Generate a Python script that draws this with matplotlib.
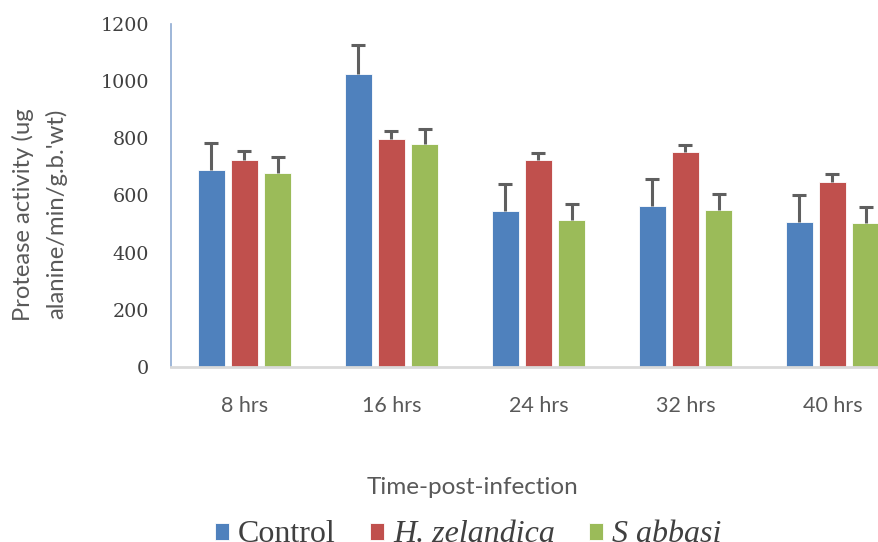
import matplotlib
matplotlib.use("Agg")
import matplotlib.pyplot as plt
import numpy as np

# Protease activity by time post infection
categories = ["8 hrs", "16 hrs", "24 hrs", "32 hrs", "40 hrs"]
series_names = ["Control", "H. zelandica", "S abbasi"]
control = [689, 1026, 545, 563, 506]
h_zelandica = [725, 797, 725, 751, 648]
s_abbasi = [680, 779, 513, 549, 505]
control_err = [96, 100, 95, 96, 96]
h_zelandica_err = [30, 29, 22, 26, 26]
s_abbasi_err = [56, 55, 57, 57, 56]
y_ticks = [0, 200, 400, 600, 800, 1000, 1200]

colors = ["#4F81BD", "#C0504D", "#9BBB59"]
values = [control, h_zelandica, s_abbasi]
errors = [control_err, h_zelandica_err, s_abbasi_err]

W, H = 879, 542
fig = plt.figure(figsize=(W / 100, H / 100), dpi=100)
ax = fig.add_axes([171 / W, 175 / H, 735 / W, 343 / H])

x = np.arange(len(categories)) + 0.5
width = 0.177
offset = 0.2245
handles = []
for i, (vals, errs, c) in enumerate(zip(values, errors, colors)):
    pos = x + (i - 1) * offset
    b = ax.bar(pos, vals, width, color=c, edgecolor="white", linewidth=0.6,
               zorder=2, label=series_names[i])
    eb = ax.errorbar(pos, vals, yerr=[np.zeros(len(errs)), errs], fmt="none",
                     ecolor="#5f5f5f", elinewidth=2.2, capsize=4.8,
                     capthick=2.2, zorder=3)
    # upper bars only: hide the cap sitting on the bar top
    eb[1][0].set_visible(False)
    handles.append(b)

ax.set_xlim(0, 5)
ax.set_ylim(0, 1200)
ax.set_yticks(y_ticks)
ax.set_yticklabels([str(v) for v in y_ticks], fontfamily="DejaVu Serif",
                   fontsize=13.8, color="#404040")
ax.set_xticks(x)
ax.set_xticklabels(categories, fontfamily="Lato", fontsize=15.5,
                   color="#595959")
ax.tick_params(axis="both", length=0)
ax.tick_params(axis="y", pad=16)
ax.tick_params(axis="x", pad=21)

for s in ["top", "right"]:
    ax.spines[s].set_visible(False)
ax.spines["left"].set_color("#8eaad2")
ax.spines["left"].set_linewidth(1.2)
ax.spines["bottom"].set_color("#d9d9d9")
ax.spines["bottom"].set_linewidth(2)

# Two-line y axis label
fig.text(23 / W, 1 - 215 / H, "Protease activity (ug", rotation=90,
         ha="center", va="center", fontfamily="Lato", fontsize=17.2,
         color="#595959")
fig.text(56 / W, 1 - 214 / H, "alanine/min/g.b.'wt)", rotation=90,
         ha="center", va="center", fontfamily="Lato", fontsize=17.2,
         color="#595959")

fig.text(473 / W, 1 - 488 / H, "Time-post-infection", ha="center",
         va="center", fontfamily="Lato", fontsize=17.5, color="#595959")

leg = fig.legend(handles=handles, labels=series_names, loc="center",
                 bbox_to_anchor=(468 / W, 1 - 535 / H), ncol=3, frameon=False,
                 prop={"family": "Liberation Serif", "size": 23},
                 handlelength=0.45, handleheight=0.45, handletextpad=0.28,
                 columnspacing=1.06)
for t in leg.get_texts()[1:]:
    t.set_fontstyle("italic")
for t in leg.get_texts():
    t.set_color("#404040")

fig.savefig("out.png", dpi=100)
